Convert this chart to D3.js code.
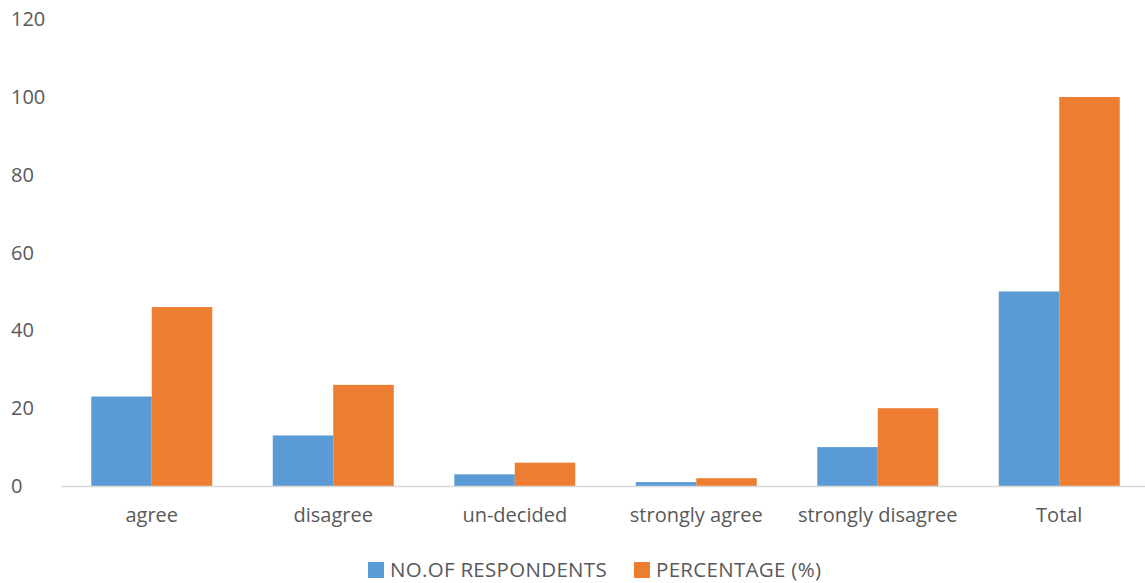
<!DOCTYPE html>
<html>
<head>
<meta charset="utf-8">
<script src="https://cdn.jsdelivr.net/npm/d3@7"></script>
<style>
  html, body { margin: 0; padding: 0; background: #fff; }
  svg text { font-family: "Open Sans", "Liberation Sans", sans-serif; fill: #595959; }
</style>
</head>
<body>
<svg id="chart" width="1145" height="583"></svg>
<script>
// Survey responses by category
const categories = ["agree", "disagree", "un-decided", "strongly agree", "strongly disagree", "Total"];
const respondents = [23, 13, 3, 1, 10, 50];
const percentage = [46, 26, 6, 2, 20, 100];
const seriesNames = ["NO.OF RESPONDENTS", "PERCENTAGE (%)"];
const yTicks = [0, 20, 40, 60, 80, 100, 120];
const colors = ["#5B9BD5", "#ED7D31"];

const FONT = 20;

const svg = d3.select("#chart");

const x = d3.scaleBand()
  .domain(categories)
  .range([61, 1150])
  .paddingInner(1 / 3)
  .paddingOuter(1 / 6);

const inner = d3.scaleBand()
  .domain([0, 1])
  .range([0, x.bandwidth()]);

const y = d3.scaleLinear()
  .domain([0, 120])
  .range([486, 19.2]);

// y tick labels (no gridlines)
svg.append("g")
  .selectAll("text")
  .data(yTicks)
  .join("text")
  .attr("x", 11)
  .attr("y", d => y(d))
  .attr("dy", "0.35em")
  .attr("font-size", FONT)
  .text(d => d);

// bars
const series = [respondents, percentage];
const groups = svg.append("g")
  .selectAll("g")
  .data(categories)
  .join("g")
  .attr("transform", d => `translate(${x(d)},0)`);

groups.selectAll("rect")
  .data((d, i) => series.map((s, k) => ({ k, v: s[i] })))
  .join("rect")
  .attr("x", d => inner(d.k))
  .attr("width", inner.bandwidth())
  .attr("y", d => y(d.v))
  .attr("height", d => y(0) - y(d.v))
  .attr("fill", d => colors[d.k]);

// baseline axis
const xAxis = d3.axisBottom(x).tickSize(0).tickPadding(22);
const gx = svg.append("g")
  .attr("transform", `translate(0,${y(0)})`)
  .call(xAxis);
gx.select(".domain").attr("stroke", "#d9d9d9").attr("stroke-width", 1.5);
gx.selectAll("text")
  .attr("font-size", FONT)
  .attr("font-family", "Open Sans, Liberation Sans, sans-serif")
  .attr("fill", "#595959");

// legend
const legendItems = [
  { name: seriesNames[0], color: colors[0], x: 368 },
  { name: seriesNames[1], color: colors[1], x: 634 }
];
const lg = svg.append("g");
legendItems.forEach(item => {
  lg.append("rect")
    .attr("x", item.x).attr("y", 562)
    .attr("width", 16).attr("height", 16)
    .attr("fill", item.color);
  lg.append("text")
    .attr("x", item.x + 22).attr("y", 577)
    .attr("font-size", 20.5)
    .attr("letter-spacing", 0.3)
    .text(item.name);
});
</script>
</body>
</html>
